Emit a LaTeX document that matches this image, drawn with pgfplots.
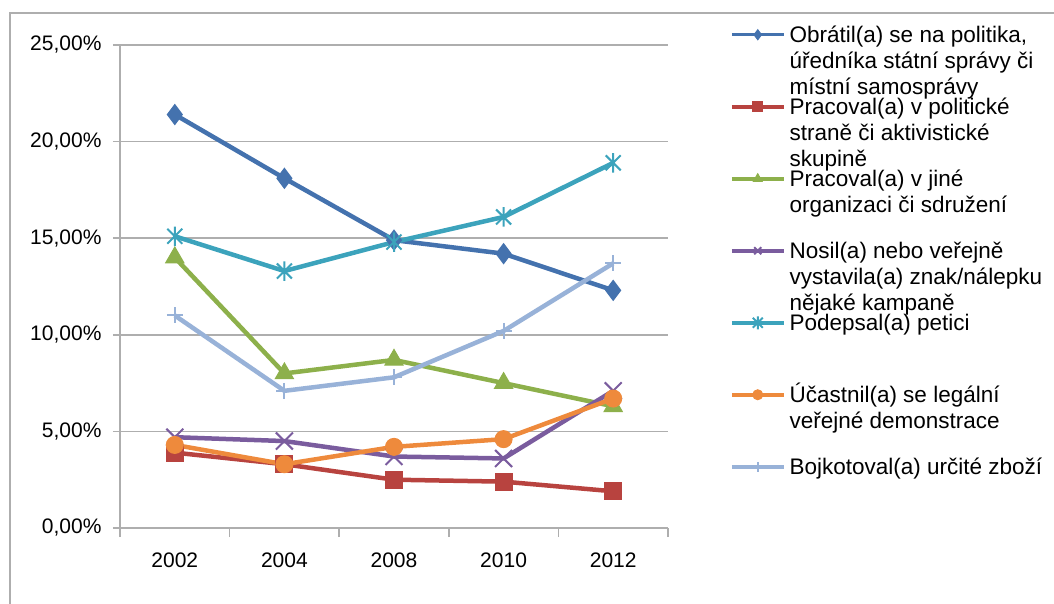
\documentclass[border=0pt]{standalone}
\usepackage{pgfplots}
\pgfplotsset{compat=1.18}
\usepackage{fontspec}
\setmainfont{Liberation Sans}
\definecolor{cBlue}{HTML}{4472AE}
\definecolor{cRed}{HTML}{B8433F}
\definecolor{cGreen}{HTML}{8DB04B}
\definecolor{cPurple}{HTML}{7A5C9E}
\definecolor{cTeal}{HTML}{3CA3BC}
\definecolor{cOrange}{HTML}{EE8A3C}
\definecolor{cLight}{HTML}{98B2D8}
\definecolor{cGrid}{HTML}{AEAEAE}
\pgfdeclareplotmark{xstar}{%
  \pgfpathmoveto{\pgfqpoint{-\pgfplotmarksize}{-\pgfplotmarksize}}%
  \pgfpathlineto{\pgfqpoint{\pgfplotmarksize}{\pgfplotmarksize}}%
  \pgfpathmoveto{\pgfqpoint{-\pgfplotmarksize}{\pgfplotmarksize}}%
  \pgfpathlineto{\pgfqpoint{\pgfplotmarksize}{-\pgfplotmarksize}}%
  \pgfpathmoveto{\pgfqpoint{0pt}{-1.3\pgfplotmarksize}}%
  \pgfpathlineto{\pgfqpoint{0pt}{1.3\pgfplotmarksize}}%
  \pgfusepathqstroke}
\newcommand{\LE}[1]{\parbox[t]{270pt}{\raggedright\fontsize{22.5}{26}\selectfont #1}}
\begin{document}
\begin{tikzpicture}
\path[use as bounding box] (0,0) rectangle (1054pt,603pt);
\draw[color=cGrid, line width=1.5pt] (10pt,-2pt) -- (10pt,590pt) -- (1056pt,590pt);
\begin{axis}[
  at={(120pt,75pt)}, anchor=south west,
  scale only axis, width=548pt, height=483pt,
  xmin=-0.5, xmax=4.5, ymin=0, ymax=25,
  axis x line*=bottom, axis y line*=left,
  axis line style={cGrid, line width=1.6pt, -},
  xtick={0,1,2,3,4},
  xticklabels={2002,2004,2008,2010,2012},
  minor xtick={-0.5,0.5,1.5,2.5,3.5,4.5},
  ytick={0,5,10,15,20,25},
  yticklabels={{0,00\%},{5,00\%},{10,00\%},{15,00\%},{20,00\%},{25,00\%}},
  tick align=outside,
  major tick length=7pt, minor tick length=9pt,
  tick style={cGrid, line width=1.6pt},
  major x tick style={draw=none},
  ymajorgrids, grid style={cGrid, line width=1.6pt},
  tick label style={font=\fontsize{21}{24}\selectfont, text=black},
  yticklabel style={xshift=-8pt},
  xticklabel style={yshift=-14pt},
  every axis plot/.append style={line width=4.5pt},
  legend image code/.code={\draw[mark repeat=2,mark phase=2,#1] plot coordinates {(0pt,0pt) (26pt,0pt) (52pt,0pt)};},
  legend image post style={mark size=5pt, line width=3.5pt},
  legend cell align=left,
  legend style={at={(1.11314,1.09576)}, anchor=north west, draw=none, fill=none,
    inner sep=0pt, outer sep=0pt, row sep=0pt,
    nodes={inner sep=0pt, outer sep=0pt, text height=43.5pt, text depth=28.5pt},
    /tikz/every odd column/.append style={column sep=4pt}},
]
\addplot[color=cBlue, mark=diamond*, mark size=10pt, mark options={fill=cBlue, line width=1pt}]
  coordinates {(0,21.4) (1,18.1) (2,14.9) (3,14.2) (4,12.3)};
\addlegendentry{\LE{Obrátil(a) se na politika,\newline úředníka státní správy či\newline místní samosprávy}}
\addplot[color=cRed, mark=square*, mark size=8.5pt, mark options={fill=cRed, line width=1pt}]
  coordinates {(0,3.9) (1,3.3) (2,2.5) (3,2.4) (4,1.9)};
\addlegendentry{\LE{Pracoval(a) v politické\newline straně či aktivistické\newline skupině}}
\addplot[color=cGreen, mark=triangle*, mark size=10.5pt, mark options={fill=cGreen, line width=1pt}]
  coordinates {(0,14.0) (1,8.0) (2,8.7) (3,7.5) (4,6.3)};
\addlegendentry{\LE{Pracoval(a) v jiné\newline organizaci či sdružení}}
\addplot[color=cPurple, mark=x, mark size=12pt, mark options={line width=2pt}]
  coordinates {(0,4.7) (1,4.5) (2,3.7) (3,3.6) (4,7.1)};
\addlegendentry{\LE{Nosil(a) nebo veřejně\newline vystavila(a) znak/nálepku\newline nějaké kampaně}}
\addplot[color=cTeal, mark=xstar, mark size=7.5pt, mark options={line width=2pt}]
  coordinates {(0,15.1) (1,13.3) (2,14.8) (3,16.1) (4,18.9)};
\addlegendentry{\LE{Podepsal(a) petici}}
\addplot[color=cOrange, mark=*, mark size=8.5pt, mark options={fill=cOrange, line width=1pt}]
  coordinates {(0,4.3) (1,3.3) (2,4.2) (3,4.6) (4,6.7)};
\addlegendentry{\LE{Účastnil(a) se legální\newline veřejné demonstrace}}
\addplot[color=cLight, mark=+, mark size=8pt, mark options={line width=2pt}]
  coordinates {(0,11.0) (1,7.1) (2,7.8) (3,10.2) (4,13.7)};
\addlegendentry{\LE{Bojkotoval(a) určité zboží}}
\end{axis}
\end{tikzpicture}
\end{document}
